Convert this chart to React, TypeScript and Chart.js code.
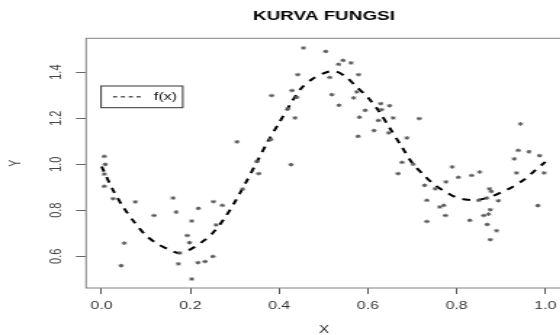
import React, { useEffect, useRef } from 'react';
import { Chart, registerables } from 'chart.js';

Chart.register(...registerables);

// ---------- data ----------
const titleText = 'KURVA FUNGSI';
const xLabel = 'X';
const yLabel = 'Y';
const curveLabel = 'f(x)';

const xTickValues = [0, 0.2, 0.4, 0.6, 0.8, 1.0];
const xTickLabels = ['0.0', '0.2', '0.4', '0.6', '0.8', '1.0'];
const yTickValues = [0.6, 0.8, 1.0, 1.2, 1.4];
const yTickLabels = ['0.6', '0.8', '1.0', '1.2', '1.4'];

const xMin = -0.035;
const xMax = 1.037;
const yMin = 0.462;
const yMax = 1.547;

const pointX = [
  0.006, 0.008, 0.006, 0.006, 0.026, 0.076, 0.051, 0.044, 0.161, 0.168,
  0.118, 0.218, 0.252, 0.272, 0.203, 0.193, 0.198, 0.176, 0.173, 0.217,
  0.233, 0.251, 0.258, 0.203, 0.305, 0.455, 0.505, 0.544, 0.534, 0.562,
  0.442, 0.514, 0.579, 0.429, 0.440, 0.383, 0.519, 0.575, 0.568, 0.535,
  0.420, 0.436, 0.381, 0.350, 0.427, 0.594, 0.629, 0.631, 0.649, 0.581,
  0.624, 0.657, 0.614, 0.647, 0.578, 0.354, 0.318, 0.716, 0.688, 0.677,
  0.702, 0.790, 0.944, 0.939, 0.963, 0.930, 0.987, 0.668, 0.728, 0.752,
  0.776, 0.804, 0.834, 0.852, 0.935, 0.997, 0.733, 0.762, 0.771, 0.775,
  0.733, 0.830, 0.874, 0.878, 0.894, 0.868, 0.850, 0.876, 0.861, 0.872,
  0.869, 0.890, 0.876, 0.983,
];
const pointY = [
  1.034, 0.999, 0.957, 0.904, 0.850, 0.836, 0.657, 0.559, 0.853, 0.792,
  0.777, 0.808, 0.837, 0.821, 0.753, 0.690, 0.659, 0.614, 0.567, 0.572,
  0.577, 0.599, 0.736, 0.501, 1.097, 1.505, 1.490, 1.451, 1.434, 1.440,
  1.389, 1.377, 1.389, 1.320, 1.291, 1.298, 1.302, 1.314, 1.288, 1.256,
  1.240, 1.201, 1.107, 1.012, 0.998, 1.234, 1.263, 1.237, 1.254, 1.204,
  1.190, 1.201, 1.146, 1.136, 1.121, 0.959, 0.892, 1.198, 1.114, 1.008,
  1.000, 0.988, 1.175, 1.060, 1.054, 1.023, 1.037, 0.959, 0.908, 0.893,
  0.923, 0.943, 0.951, 0.966, 0.962, 0.962, 0.843, 0.814, 0.821, 0.777,
  0.751, 0.756, 0.893, 0.882, 0.841, 0.853, 0.843, 0.802, 0.777, 0.783,
  0.738, 0.711, 0.672, 0.820,
];

const curveX = [
  0.0, 0.025, 0.05, 0.075, 0.1, 0.125, 0.15, 0.175, 0.2, 0.225,
  0.25, 0.275, 0.3, 0.325, 0.35, 0.375, 0.4, 0.425, 0.45, 0.475,
  0.5, 0.525, 0.55, 0.575, 0.6, 0.625, 0.65, 0.675, 0.7, 0.725,
  0.75, 0.775, 0.8, 0.825, 0.85, 0.875, 0.9, 0.925, 0.95, 0.975, 1.0,
];
const curveY = [
  0.99, 0.89, 0.81, 0.745, 0.69, 0.655, 0.63, 0.614, 0.63, 0.66,
  0.70, 0.76, 0.835, 0.92, 1.01, 1.10, 1.18, 1.26, 1.33, 1.37,
  1.395, 1.405, 1.38, 1.335, 1.29, 1.23, 1.155, 1.08, 1.005, 0.955,
  0.91, 0.88, 0.855, 0.845, 0.845, 0.857, 0.877, 0.90, 0.93, 0.97, 1.01,
];

// ---------- styling ----------
const FONT = '"Liberation Sans", Arial, Helvetica, sans-serif';
const STRETCH = 560 / 386; // the reference is stretched horizontally
const INNER_W = 392; // plot box runs past the right edge of the picture, as in the reference
const INNER_H = 335;

const boxPlugin = {
  id: 'rBox',
  beforeDatasetsDraw(chart: any) {
    const { ctx, chartArea } = chart;
    ctx.save();
    ctx.strokeStyle = '#808080';
    ctx.lineWidth = 1;
    ctx.strokeRect(chartArea.left, chartArea.top, chartArea.right - chartArea.left, chartArea.bottom - chartArea.top);
    ctx.restore();
  },
};

const legendPlugin = {
  id: 'rLegend',
  afterDraw(chart: any) {
    const { ctx, chartArea } = chart;
    const ds = chart.data.datasets[1];
    const x0 = chartArea.left + 10.3;
    const y0 = chartArea.top + 47.7;
    const w = 56.3;
    const h = 21.7;
    ctx.save();
    ctx.fillStyle = '#fff';
    ctx.fillRect(x0, y0, w, h);
    ctx.strokeStyle = '#333';
    ctx.lineWidth = 1;
    ctx.strokeRect(x0, y0, w, h);
    ctx.setLineDash([2.8, 2.6]);
    ctx.strokeStyle = '#000';
    ctx.beginPath();
    ctx.moveTo(x0 + 8.3, y0 + h / 2);
    ctx.lineTo(x0 + 28.6, y0 + h / 2);
    ctx.stroke();
    ctx.setLineDash([]);
    ctx.fillStyle = '#111';
    ctx.font = `11px ${FONT}`;
    ctx.textAlign = 'left';
    ctx.textBaseline = 'middle';
    ctx.fillText(ds.label, x0 + 36.5, y0 + h / 2 + 0.5);
    ctx.restore();
  },
};

export default function App() {
  const canvasRef = useRef<HTMLCanvasElement | null>(null);

  useEffect(() => {
    document.body.style.margin = '0';
    const canvas = canvasRef.current;
    if (!canvas) return;

    const points = pointX.map((x, i) => ({ x, y: pointY[i] }));
    const curve = curveX.map((x, i) => ({ x, y: curveY[i] }));

    const chart = new Chart(canvas, {
      type: 'scatter',
      data: {
        datasets: [
          {
            label: 'data',
            data: points,
            showLine: false,
            pointStyle: 'star',
            pointRadius: 1.8,
            pointBorderWidth: 1,
            borderColor: '#5a5a5a',
            backgroundColor: '#5a5a5a',
          },
          {
            label: curveLabel,
            data: curve,
            showLine: true,
            borderColor: '#000',
            borderWidth: 2,
            borderDash: [5.6, 5.6],
            pointRadius: 0,
            tension: 0.3,
            fill: false,
          },
        ],
      },
      options: {
        responsive: false,
        animation: false,
        devicePixelRatio: 1,
        events: [],
        layout: { padding: 0 },
        plugins: {
          legend: { display: false },
          tooltip: { enabled: false },
          title: {
            display: true,
            text: titleText,
            fullSize: false,
            color: '#000',
            font: { family: FONT, size: 13, weight: 'bold', lineHeight: 1.2 },
            padding: { top: 8.8, bottom: 13.9 },
          },
        },
        scales: {
          x: {
            type: 'linear',
            position: 'bottom',
            min: xMin,
            max: xMax,
            afterBuildTicks: (s: any) => {
              s.ticks = xTickValues.map((v) => ({ value: v }));
            },
            afterFit: (s: any) => {
              s.height = 47;
              s.paddingLeft = 0;
              s.paddingRight = 0;
            },
            grid: { drawOnChartArea: false, drawTicks: true, tickLength: 6, tickColor: '#555', lineWidth: 1 },
            border: { display: false },
            ticks: {
              autoSkip: false,
              minRotation: 0,
              maxRotation: 0,
              padding: 5,
              color: '#333',
              font: { family: FONT, size: 11 },
              callback: (_v: any, i: number) => xTickLabels[i],
            },
            title: {
              display: true,
              text: xLabel,
              color: '#222',
              font: { family: FONT, size: 10.5, lineHeight: 1.2 },
              padding: { top: 0, bottom: -1 },
            },
          },
          y: {
            type: 'linear',
            position: 'left',
            min: yMin,
            max: yMax,
            afterBuildTicks: (s: any) => {
              s.ticks = yTickValues.map((v) => ({ value: v }));
            },
            afterFit: (s: any) => {
              s.width = 59.3;
              s.paddingTop = 0;
              s.paddingBottom = 0;
            },
            grid: { drawOnChartArea: false, drawTicks: true, tickLength: 7, tickColor: '#666', lineWidth: 1 },
            border: { display: false },
            ticks: {
              autoSkip: false,
              minRotation: 90,
              maxRotation: 90,
              crossAlign: 'center',
              padding: 6,
              color: '#444',
              font: { family: FONT, size: 11 },
              callback: (_v: any, i: number) => yTickLabels[i],
            },
            title: {
              display: true,
              text: yLabel,
              color: '#444',
              font: { family: FONT, size: 10.5, lineHeight: 1.2 },
              padding: { top: 5, bottom: 0 },
            },
          },
        },
      },
      plugins: [boxPlugin, legendPlugin],
    } as any);

    return () => {
      chart.destroy();
    };
  }, []);

  return (
    <div style={{ width: 560, height: 335, overflow: 'hidden', background: '#fff' }}>
      <canvas
        ref={canvasRef}
        width={INNER_W}
        height={INNER_H}
        style={{ width: `${INNER_W * STRETCH}px`, height: '335px', display: 'block' }}
      />
    </div>
  );
}
